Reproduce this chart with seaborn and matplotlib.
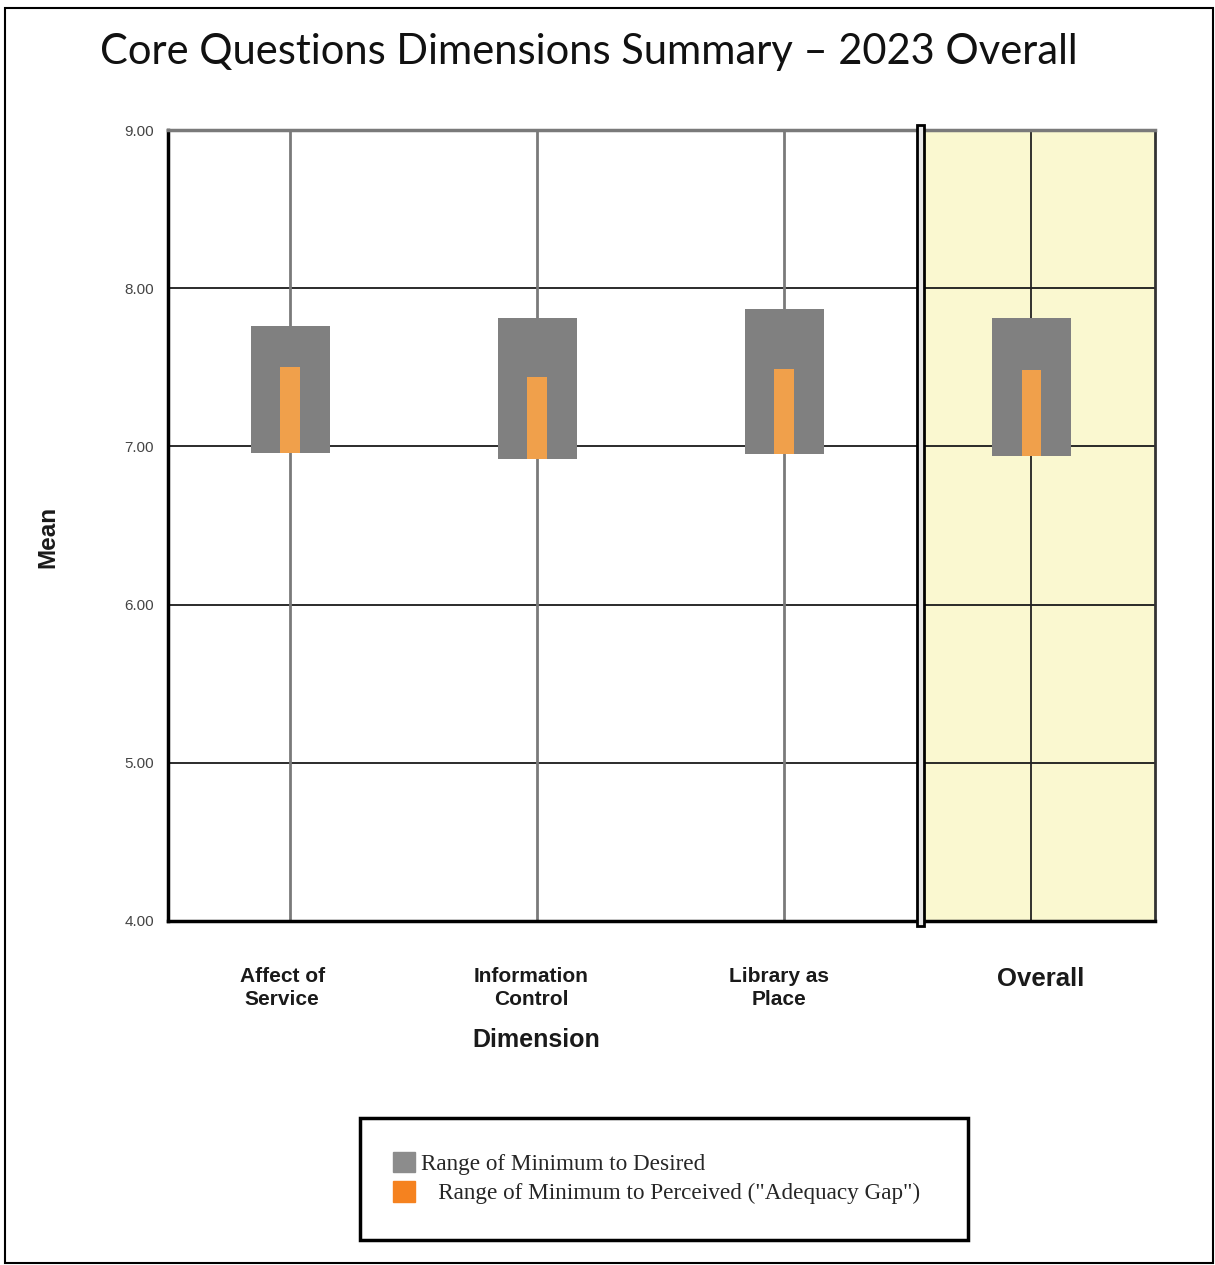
import matplotlib
matplotlib.use("Agg")
import matplotlib.pyplot as plt
import matplotlib.transforms as mtransforms
from matplotlib.patches import Patch, Rectangle
import pandas as pd
import seaborn as sns

# values
dimensions = ["Affect of\nService", "Information\nControl", "Library as\nPlace", "Overall"]
minimum = [6.96, 6.92, 6.95, 6.94]
desired = [7.76, 7.81, 7.87, 7.81]
perceived = [7.50, 7.44, 7.49, 7.48]
y_ticks = [4, 5, 6, 7, 8, 9]

df = pd.DataFrame({
    "dimension": dimensions,
    "minimum": minimum,
    "desired_gap": [d - m for d, m in zip(desired, minimum)],
    "adequacy_gap": [p - m for p, m in zip(perceived, minimum)],
})

sns.set_style("white")
plt.rcParams["font.family"] = ["Liberation Sans", "DejaVu Sans"]

fig = plt.figure(figsize=(12.15, 12.65), dpi=100)
ax = fig.add_axes([168 / 1215, 1 - 921 / 1265, 987 / 1215, 791 / 1265])

# shaded "Overall" column
ax.axvspan(2.555, 3.5, color="#FAF8D0", zorder=0)

sns.barplot(data=df, x="dimension", y="desired_gap", bottom=df["minimum"],
            color="#808080", saturation=1, width=0.32, linewidth=0, ax=ax, zorder=3)
sns.barplot(data=df, x="dimension", y="adequacy_gap", bottom=df["minimum"],
            color="#F0A04B", saturation=1, width=0.08, linewidth=0, ax=ax, zorder=4)

ax.set_xlim(-0.494, 3.5)
ax.set_ylim(4, 9)
ax.set_yticks(y_ticks)
ax.set_yticklabels([f"{t:.2f}" for t in y_ticks], fontsize=11, color="#444444")

# grid
for t in y_ticks[1:-1]:
    ax.axhline(t, color="#1a1a1a", lw=1.3, zorder=1)
for i in range(len(dimensions)):
    ax.axvline(i, color="#7a7a7a" if i < 3 else "#222222", lw=2 if i < 3 else 1.3, zorder=1)

# separator before the overall column
sep = Rectangle((2.538, 3.97), 0.028, 5.06, facecolor="#e8e8e8", edgecolor="black",
                lw=2, zorder=5, clip_on=False)
ax.add_patch(sep)

for side in ["left", "bottom"]:
    ax.spines[side].set_color("black")
    ax.spines[side].set_linewidth(2.5)
ax.spines["top"].set_color("#7a7a7a")
ax.spines["top"].set_linewidth(2.5)
ax.spines["right"].set_color("#333333")
ax.spines["right"].set_linewidth(2)

ax.tick_params(axis="both", length=0)
ax.tick_params(axis="y", pad=10)
ax.tick_params(axis="x", pad=33)
ax.set_xticks(range(len(dimensions)))
ax.set_xticklabels(dimensions, fontsize=15, fontweight="bold", color="#1a1a1a",
                   linespacing=1.3)
ax.get_xticklabels()[-1].set_fontsize(18.5)
# labels in the reference sit a little off their grid lines
for lbl, dx in zip(ax.get_xticklabels(), [-8, -6, -5, 9]):
    lbl.set_transform(lbl.get_transform() + mtransforms.ScaledTranslation(dx / 100, 0, fig.dpi_scale_trans))

ax.set_xlabel("Dimension", fontsize=18, fontweight="bold", labelpad=14, color="#1a1a1a")
ax.xaxis.set_label_coords((536 - 168) / 987, -(1040 - 921) / 791)
ax.xaxis.label.set_va("center")
ax.set_ylabel("Mean", fontsize=17.5, fontweight="bold", color="#1a1a1a")
ax.yaxis.set_label_coords(-(168 - 48) / 987, (921 - 537) / 791)
ax.yaxis.label.set_va("center")

fig.text(100 / 1215, 1 - 52 / 1265, "Core Questions Dimensions Summary \u2013 2023 Overall",
         fontsize=30, family=["Lato", "DejaVu Sans"], va="center", ha="left", color="#111111")

# legend box
fig.patches.append(Rectangle((360 / 1215, 1 - 1240 / 1265), 608 / 1215, 122 / 1265,
                             transform=fig.transFigure, fill=False, edgecolor="black", lw=2.5))
handles = [Patch(color="#8C8C8C"), Patch(color="#F5821F")]
labels = ["Range of Minimum to Desired", "   Range of Minimum to Perceived (\"Adequacy Gap\")"]
fig.legend(handles, labels, loc="center left", bbox_to_anchor=(372 / 1215, 1 - 1178 / 1265),
           frameon=False, prop={"family": "Liberation Serif", "size": 16.7},
           handlelength=0.95, handleheight=1.0, handletextpad=0.25, labelspacing=0.27)

# outer border
fig.patches.append(Rectangle((5 / 1215, 2 / 1265), 1208 / 1215, 1255 / 1265,
                             transform=fig.transFigure, fill=False, edgecolor="black", lw=1.5))

fig.savefig("out.png", dpi=100)
